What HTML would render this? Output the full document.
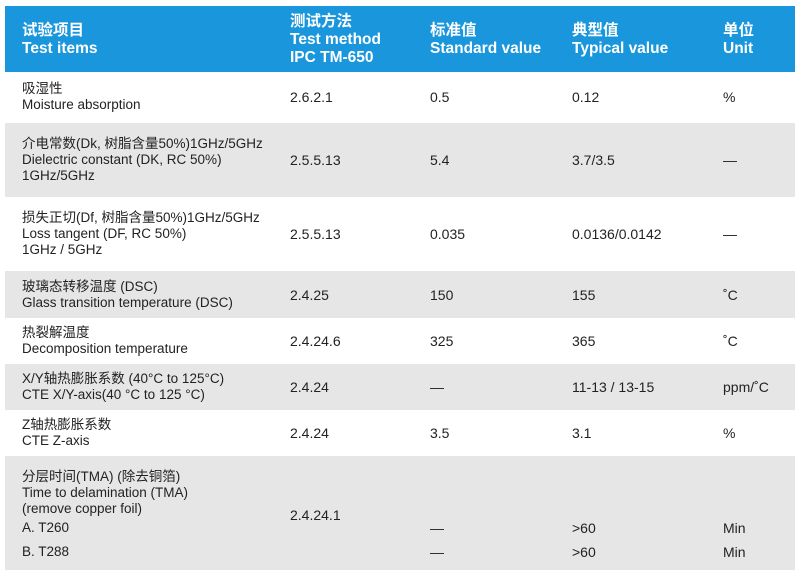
<!DOCTYPE html>
<html><head><meta charset="utf-8"><style>
body{margin:0;width:800px;height:583px;background:#fff;position:relative;overflow:hidden;font-family:"Liberation Sans","Noto Sans CJK SC",sans-serif;color:#222}
.b{position:absolute;left:5px;width:790px}
.h{position:absolute;color:#fff;font-weight:bold;font-size:15.5px;line-height:18px}
.t{position:absolute;font-size:13.5px;line-height:16px;white-space:nowrap}
.v{position:absolute;font-size:14px;line-height:16px;white-space:nowrap}
</style></head><body>
<div class="b" style="top:6px;height:66px;background:#1a96dc"></div>
<div class="b" style="top:123px;height:74px;background:#e6e6e6"></div>
<div class="b" style="top:271px;height:47px;background:#e6e6e6"></div>
<div class="b" style="top:364px;height:46px;background:#e6e6e6"></div>
<div class="b" style="top:456px;height:114px;background:#e6e6e6"></div>

<div class="h" style="left:22px;top:22px">试验项目<br>Test items</div>
<div class="h" style="left:290px;top:13px">测试方法<br>Test method<br>IPC TM-650</div>
<div class="h" style="left:430px;top:22px">标准值<br>Standard value</div>
<div class="h" style="left:572px;top:22px">典型值<br>Typical value</div>
<div class="h" style="left:723px;top:22px">单位<br>Unit</div>

<div class="t" style="left:22px;top:81px">吸湿性<br>Moisture absorption</div>
<div class="v" style="left:290px;top:89px">2.6.2.1</div><div class="v" style="left:430px;top:89px">0.5</div><div class="v" style="left:572px;top:89px">0.12</div><div class="v" style="left:723px;top:89px">%</div>

<div class="t" style="left:22px;top:136px">介电常数(Dk, 树脂含量50%)1GHz/5GHz<br>Dielectric constant (DK, RC 50%)<br>1GHz/5GHz</div>
<div class="v" style="left:290px;top:152px">2.5.5.13</div><div class="v" style="left:430px;top:152px">5.4</div><div class="v" style="left:572px;top:152px">3.7/3.5</div><div class="v" style="left:723px;top:152px">—</div>

<div class="t" style="left:22px;top:210px">损失正切(Df, 树脂含量50%)1GHz/5GHz<br>Loss tangent (DF, RC 50%)<br>1GHz / 5GHz</div>
<div class="v" style="left:290px;top:226px">2.5.5.13</div><div class="v" style="left:430px;top:226px">0.035</div><div class="v" style="left:572px;top:226px">0.0136/0.0142</div><div class="v" style="left:723px;top:226px">—</div>

<div class="t" style="left:22px;top:279px">玻璃态转移温度 (DSC)<br>Glass transition temperature (DSC)</div>
<div class="v" style="left:290px;top:287px">2.4.25</div><div class="v" style="left:430px;top:287px">150</div><div class="v" style="left:572px;top:287px">155</div><div class="v" style="left:723px;top:287px">˚C</div>

<div class="t" style="left:22px;top:325px">热裂解温度<br>Decomposition temperature</div>
<div class="v" style="left:290px;top:333px">2.4.24.6</div><div class="v" style="left:430px;top:333px">325</div><div class="v" style="left:572px;top:333px">365</div><div class="v" style="left:723px;top:333px">˚C</div>

<div class="t" style="left:22px;top:371px">X/Y轴热膨胀系数 (40°C to 125°C)<br>CTE X/Y-axis(40 °C to 125 °C)</div>
<div class="v" style="left:290px;top:379px">2.4.24</div><div class="v" style="left:430px;top:379px">—</div><div class="v" style="left:572px;top:379px">11-13 / 13-15</div><div class="v" style="left:723px;top:379px">ppm/˚C</div>

<div class="t" style="left:22px;top:417px">Z轴热膨胀系数<br>CTE Z-axis</div>
<div class="v" style="left:290px;top:425px">2.4.24</div><div class="v" style="left:430px;top:425px">3.5</div><div class="v" style="left:572px;top:425px">3.1</div><div class="v" style="left:723px;top:425px">%</div>

<div class="t" style="left:22px;top:469px">分层时间(TMA) (除去铜箔)<br>Time to delamination (TMA)<br>(remove copper foil)</div>
<div class="v" style="left:290px;top:507px">2.4.24.1</div>
<div class="t" style="left:22px;top:520px">A. T260</div><div class="t" style="left:22px;top:544px">B. T288</div>
<div class="v" style="left:430px;top:520px">—</div><div class="v" style="left:572px;top:520px">&gt;60</div><div class="v" style="left:723px;top:520px">Min</div>
<div class="v" style="left:430px;top:544px">—</div><div class="v" style="left:572px;top:544px">&gt;60</div><div class="v" style="left:723px;top:544px">Min</div>
</body></html>
